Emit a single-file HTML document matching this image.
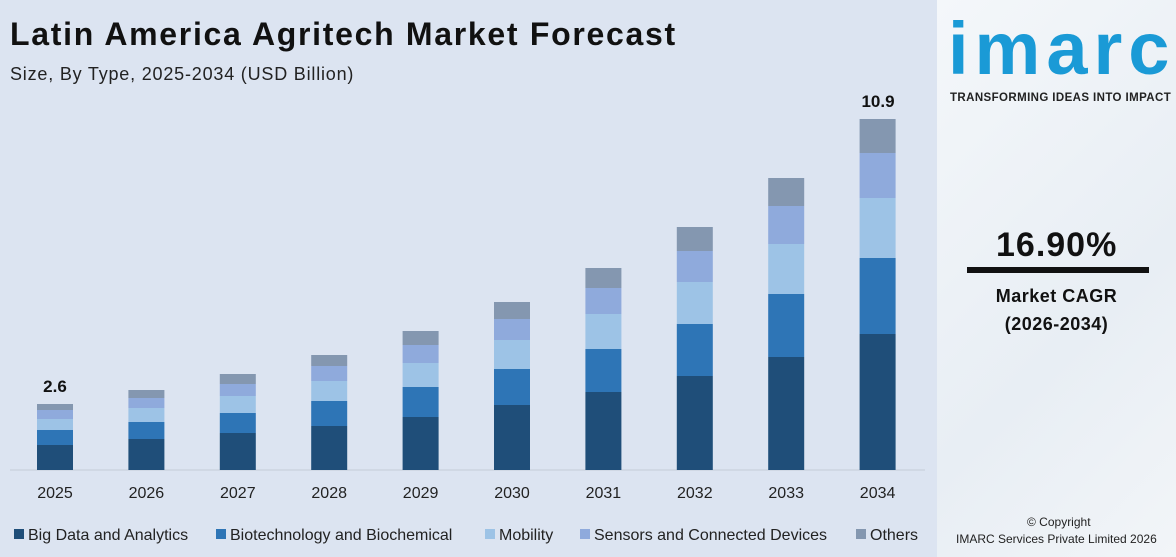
<!DOCTYPE html>
<html><head><meta charset="utf-8"><style>
body{margin:0;width:1176px;height:557px;overflow:hidden;font-family:"Liberation Sans",sans-serif;}
#left{position:absolute;left:0;top:0;width:937px;height:557px;background:#dce4f1;}
#right{position:absolute;left:937px;top:0;width:239px;height:557px;background:linear-gradient(135deg,#f4f7fa,#e8eef4 60%,#f2f5f8);}
.t{position:absolute;white-space:nowrap;}
</style></head><body>
<div id="left"></div>
<div id="right"></div>
<div class="t" style="left:10px;top:16px;font-size:32px;font-weight:bold;color:#111;letter-spacing:1.7px;">Latin America Agritech Market Forecast</div>
<div class="t" style="left:10px;top:64px;font-size:18px;color:#222;letter-spacing:0.8px;">Size, By Type, 2025-2034 (USD Billion)</div>
<svg style="position:absolute;left:0;top:0" width="937" height="557">
<line x1="10" y1="470" x2="925" y2="470" stroke="#c5ccd8" stroke-width="1"/>
<g id="bars"></g>
<g font-family="Liberation Sans" font-size="16" fill="#222" text-anchor="middle" id="yrs"></g>
<text x="55" y="392" font-size="17" font-weight="bold" text-anchor="middle" fill="#111">2.6</text>
<text x="878" y="107" font-size="17" font-weight="bold" text-anchor="middle" fill="#111">10.9</text>
<g font-family="Liberation Sans" font-size="16" fill="#222">
<rect x="14" y="529" width="10" height="10" fill="#1f4e79"/><text x="28" y="540">Big Data and Analytics</text>
<rect x="216" y="529" width="10" height="10" fill="#2e75b6"/><text x="230" y="540">Biotechnology and Biochemical</text>
<rect x="485" y="529" width="10" height="10" fill="#9dc3e6"/><text x="499" y="540">Mobility</text>
<rect x="580" y="529" width="10" height="10" fill="#8faadc"/><text x="594" y="540">Sensors and Connected Devices</text>
<rect x="856" y="529" width="10" height="10" fill="#8497b0"/><text x="870" y="540">Others</text>
</g>
</svg>
<div class="t" style="left:948px;top:6px;font-size:74px;font-weight:bold;color:#1a9ad6;letter-spacing:6px;">imarc</div>
<div class="t" style="left:950px;top:92px;font-size:11.5px;font-weight:bold;color:#222;letter-spacing:0.4px;">TRANSFORMING IDEAS INTO IMPACT</div>
<div class="t" style="left:996px;top:226px;font-size:34px;font-weight:bold;color:#111;letter-spacing:1px;">16.90%</div>
<div style="position:absolute;left:967px;top:267px;width:182px;height:6px;background:#111;"></div>
<div class="t" style="left:0;width:1176px;padding-left:937px;box-sizing:border-box;text-align:center;top:286px;font-size:18px;font-weight:bold;color:#111;letter-spacing:0.5px;">Market CAGR</div>
<div class="t" style="left:0;width:1176px;padding-left:937px;box-sizing:border-box;text-align:center;top:314px;font-size:18px;font-weight:bold;color:#111;letter-spacing:0.5px;">(2026-2034)</div>
<div class="t" style="left:1027px;top:515px;font-size:12px;color:#222;">© Copyright</div>
<div class="t" style="left:956px;top:532px;font-size:12px;color:#222;">IMARC Services Private Limited 2026</div>
<script>
var d=[[404,410,419,430,445],[390,398,408,422,439],[374,384,396,413,433],[355,366,381,401,426],[331,345,363,387,417],[302,319,340,369,405],[268,288,314,349,392],[227,251,282,324,376],[178,206,244,294,357],[119,153,198,258,334]];
var c=["#8497b0","#8faadc","#9dc3e6","#2e75b6","#1f4e79"];
var s="",y="";
d.forEach(function(b,i){var cx=55+i*91.4,x=cx-18;b=b.concat([470]);
for(var k=0;k<5;k++)s+='<rect x="'+x+'" y="'+b[k]+'" width="36" height="'+(b[k+1]-b[k])+'" fill="'+c[k]+'"/>';
y+='<text x="'+cx+'" y="498">'+(2025+i)+'</text>';});
document.getElementById("bars").innerHTML=s;document.getElementById("yrs").innerHTML=y;
</script>
</body></html>
